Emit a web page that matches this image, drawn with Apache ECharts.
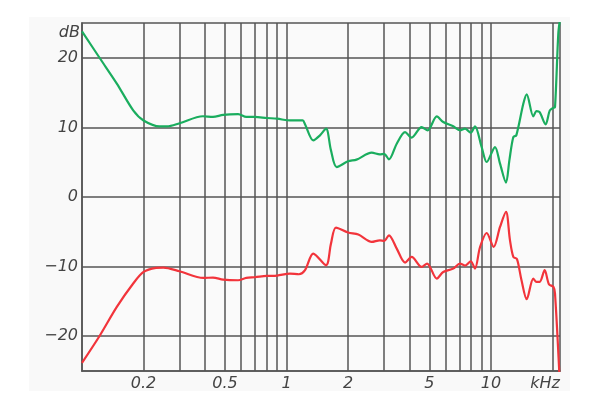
<!DOCTYPE html>
<html>
<head>
<meta charset="utf-8">
<script src="https://cdn.jsdelivr.net/npm/echarts@6/dist/echarts.min.js"></script>
<style>
html,body{margin:0;padding:0;background:#fff;}
#chart{width:600px;height:408px;}
</style>
</head>
<body>
<div id="chart"></div>
<script>
// Frequencies in kHz, levels in dB
var greenFreq = [0.1,0.1225,0.148,0.178,0.2,0.24,0.26,0.3,0.39,0.437,0.49,0.58,0.636,0.7,0.8,0.9,1.04,1.2,1.23,1.352,1.458,1.561,1.65,1.76,2.0,2.2,2.61,2.86,3.0,3.17,3.46,3.8,4.09,4.58,4.9,5.43,5.84,6.54,7.05,7.47,7.96,8.35,9.0,9.53,10.46,11.07,11.84,12.3,12.86,13.3,14.39,14.95,16.1,16.7,17.3,18.5,19.4,20.2,20.56,21.34,21.75];
var greenDb   = [23.8,19.9,16.3,12.45,11.0,10.15,10.15,10.6,11.6,11.5,11.8,11.9,11.5,11.5,11.35,11.25,11.0,11.0,10.5,8.14,8.86,9.82,6.7,4.3,5.13,5.37,6.37,6.13,6.2,5.41,7.66,9.33,8.53,10.05,9.58,11.59,10.77,10.15,9.58,9.82,9.24,10.15,7.18,5.03,7.18,4.8,2.07,5.27,8.62,8.86,13.4,14.75,11.59,12.35,12.2,10.44,12.45,12.83,12.9,23.5,25.5];

var redFreq = [0.1,0.1225,0.148,0.178,0.2,0.23,0.25,0.3,0.392,0.437,0.49,0.58,0.636,0.7,0.8,0.9,1.04,1.15,1.232,1.352,1.561,1.65,1.746,2.0,2.245,2.61,2.86,3.0,3.17,3.46,3.8,4.09,4.58,4.87,5.43,5.84,6.54,7.05,7.47,7.96,8.35,8.84,9.53,10.3,11.07,11.84,12.38,12.86,13.4,14.1,14.95,16.1,16.7,17.3,18.3,19.2,20.2,20.56,21.6];
var redDb   = [-23.83,-19.86,-15.79,-12.43,-10.77,-10.19,-10.14,-10.67,-11.63,-11.58,-11.87,-11.96,-11.63,-11.53,-11.34,-11.29,-11.0,-11.1,-10.52,-8.13,-9.81,-6.7,-4.39,-5.11,-5.4,-6.46,-6.22,-6.32,-5.5,-7.41,-9.42,-8.61,-10.05,-9.56,-11.72,-10.77,-10.28,-9.56,-9.85,-9.23,-10.28,-7.18,-5.17,-7.18,-4.3,-2.15,-6.2,-8.61,-8.94,-11.96,-14.69,-11.72,-12.2,-12.2,-10.52,-12.53,-12.92,-13.87,-25.5];

var xGridFreqs = [0.2,0.3,0.4,0.5,0.6,0.7,0.8,0.9,1,2,3,4,5,6,7,8,9,10,20];
var xLabelFreqs = [0.2,0.5,1,2,5,10];
var yTicks = [-20,-10,0,10,20];

function pairs(xs, ys){ var out=[]; for(var i=0;i<xs.length;i++) out.push([xs[i], ys[i]]); return out; }

var chart = echarts.init(document.getElementById('chart'), null, {renderer:'canvas'});
var labelFont = {fontFamily:'DejaVu Sans', fontStyle:'italic', fontSize:16, color:'#444'};
chart.setOption({
  animation:false,
  backgroundColor:'#ffffff',
  graphic:[{type:'rect', z:-10, silent:true, shape:{x:29,y:17,width:541,height:374}, style:{fill:'#f9f9f9'}}],
  grid:{left:82, top:23, right:40, bottom:37, show:true, borderColor:'#555', borderWidth:1.5, backgroundColor:'#fafafa'},
  xAxis:{
    type:'log', logBase:10, min:0.1, max:21.75,
    name:'kHz', nameLocation:'end', nameGap:0,
    nameTextStyle:{fontFamily:'DejaVu Sans', fontStyle:'italic', fontSize:16, color:'#444', align:'right', verticalAlign:'top', padding:[5,0,0,0]},
    axisLine:{show:true, onZero:false, lineStyle:{color:'#555', width:1.5}},
    axisTick:{show:false, customValues:xGridFreqs},
    splitLine:{show:true, lineStyle:{color:'#555', width:1.5}},
    minorSplitLine:{show:false},
    axisLabel:Object.assign({customValues:xLabelFreqs, margin:5, formatter:function(v){return String(v);}}, labelFont)
  },
  yAxis:{
    type:'value', min:-25, max:25,
    name:'dB', nameLocation:'end', nameGap:-18,
    nameTextStyle:{fontFamily:'DejaVu Sans', fontStyle:'italic', fontSize:16, color:'#444', align:'right', padding:[0,2,0,0]},
    axisLine:{show:true, onZero:false, lineStyle:{color:'#555', width:1.5}},
    axisTick:{show:false, customValues:yTicks},
    splitLine:{show:true, lineStyle:{color:'#555', width:1.5}},
    axisLabel:Object.assign({customValues:yTicks, margin:4, formatter:function(v){return String(v).replace('-', '\u2212');}}, labelFont)
  },
  series:[
    {type:'line', data:pairs(greenFreq, greenDb), smooth:0.3, showSymbol:false, lineStyle:{color:'#1aad5e', width:2.2}, clip:true},
    {type:'line', data:pairs(redFreq, redDb), smooth:0.3, showSymbol:false, lineStyle:{color:'#f2343b', width:2.2}, clip:true}
  ]
});
</script>
</body>
</html>
